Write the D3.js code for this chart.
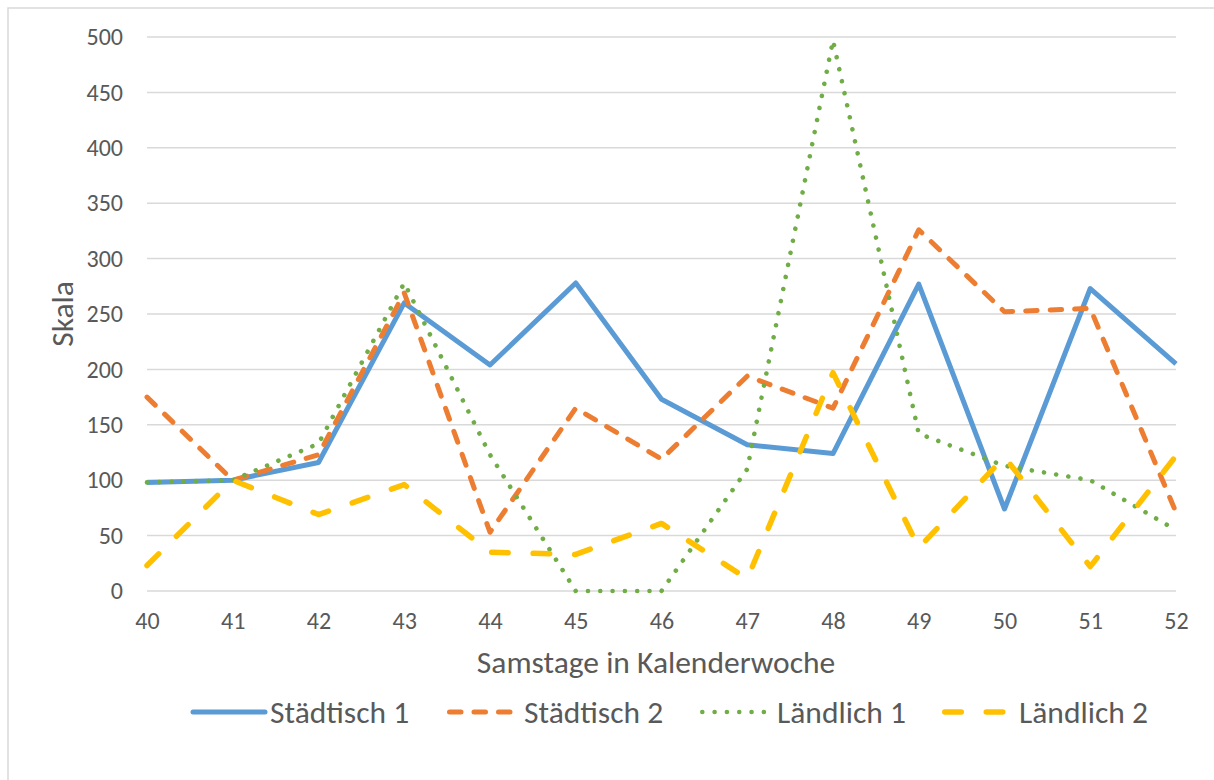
<!DOCTYPE html>
<html>
<head>
<meta charset="utf-8">
<script src="https://cdn.jsdelivr.net/npm/d3@7"></script>
<style>
  html, body { margin: 0; padding: 0; background: #ffffff; }
  svg { display: block; }
  text { font-family: Carlito, Calibri, Lato, sans-serif; fill: #595959; }
</style>
</head>
<body>
<svg id="chart" width="1214" height="780"></svg>
<script>
// Calendar weeks (Saturdays) on the x axis
const weeks = [40, 41, 42, 43, 44, 45, 46, 47, 48, 49, 50, 51, 52];

// Series values per week
const staedtisch1 = [98, 100, 116, 260, 204, 278, 173, 132, 124, 277, 74, 273, 205];
const staedtisch2 = [175, 100, 123, 269, 53, 165, 119, 194, 165, 326, 252, 255, 71];
const laendlich1  = [98, 100, 133, 278, 123, 0, 0, 110, 497, 142, 113, 100, 55];
const laendlich2  = [23, 100, 69, 96, 35, 33, 61, 11, 197, 39, 121, 22, 122];

const seriesNames = ["Städtisch 1", "Städtisch 2", "Ländlich 1", "Ländlich 2"];
const yTicks = [0, 50, 100, 150, 200, 250, 300, 350, 400, 450, 500];

const xTitle = "Samstage in Kalenderwoche";
const yTitle = "Skala";

// Line styles per series
const styles = [
  { color: "#5B9BD5", width: 5,   dash: null },
  { color: "#ED7D31", width: 5,   dash: "11.5,13" },
  { color: "#70AD47", width: 4.6, dash: "0.01,12.3" },
  { color: "#FFC000", width: 5.5, dash: "16.5,25" }
];

const series = [staedtisch1, staedtisch2, laendlich1, laendlich2];

const FONT = "Carlito, Calibri, Lato, sans-serif";
const svg = d3.select("#chart");

// Chart-area frame
svg.append("rect")
  .attr("x", 8).attr("y", 8)
  .attr("width", 1230).attr("height", 800)
  .attr("fill", "none")
  .attr("stroke", "#d9d9d9")
  .attr("stroke-width", 1.5);

const x = d3.scaleLinear().domain([40, 52]).range([147, 1176]);
const y = d3.scaleLinear().domain([0, 500]).range([591, 37]);

// Horizontal gridlines
svg.append("g")
  .selectAll("line")
  .data(yTicks)
  .join("line")
  .attr("x1", x(40)).attr("x2", x(52))
  .attr("y1", d => y(d)).attr("y2", d => y(d))
  .attr("stroke", "#d9d9d9")
  .attr("stroke-width", 1.5);

// Y axis tick labels
const yAxis = d3.axisLeft(y).tickValues(yTicks).tickSize(0).tickPadding(0);
const gy = svg.append("g").attr("transform", "translate(123,0)").call(yAxis);
gy.select(".domain").remove();
gy.selectAll("text")
  .attr("font-size", 24)
  .attr("fill", "#595959")
  .style("font-family", FONT);

// X axis tick labels
const xAxis = d3.axisBottom(x).tickValues(weeks).tickFormat(d3.format("d")).tickSize(0).tickPadding(0);
const gx = svg.append("g").attr("transform", "translate(0,621)").call(xAxis);
gx.select(".domain").remove();
gx.selectAll("text")
  .attr("font-size", 24)
  .attr("fill", "#595959")
  .attr("dy", "0.35em")
  .style("font-family", FONT);

// Axis titles
svg.append("text")
  .attr("x", 656)
  .attr("y", 673)
  .attr("text-anchor", "middle")
  .attr("font-size", 31.5)
  .text(xTitle);

svg.append("text")
  .attr("transform", `translate(73,${(y(0) + y(500)) / 2}) rotate(-90)`)
  .attr("text-anchor", "middle")
  .attr("font-size", 31.5)
  .text(yTitle);

// Series lines
const line = d3.line()
  .x((d, i) => x(weeks[i]))
  .y(d => y(d));

svg.append("g")
  .selectAll("path")
  .data(series)
  .join("path")
  .attr("d", d => line(d))
  .attr("fill", "none")
  .attr("stroke", (d, i) => styles[i].color)
  .attr("stroke-width", (d, i) => styles[i].width)
  .attr("stroke-dasharray", (d, i) => styles[i].dash)
  .attr("stroke-linecap", (d, i) => styles[i].dash ? "round" : "butt")
  .attr("stroke-linejoin", "round");

// Legend
const legendX = [193, 447, 700, 942];
const legendY = 712;
const lg = svg.append("g");
seriesNames.forEach((name, i) => {
  const s = styles[i];
  lg.append("line")
    .attr("x1", legendX[i] + (s.dash ? s.width / 2 : 0))
    .attr("x2", legendX[i] + 72 - (s.dash ? s.width / 2 : 0))
    .attr("y1", legendY).attr("y2", legendY)
    .attr("stroke", s.color)
    .attr("stroke-width", s.width)
    .attr("stroke-dasharray", s.dash)
    .attr("stroke-linecap", "round");
  lg.append("text")
    .attr("x", legendX[i] + 77)
    .attr("y", legendY + 11)
    .attr("font-size", 31.5)
    .text(name);
});
</script>
</body>
</html>
